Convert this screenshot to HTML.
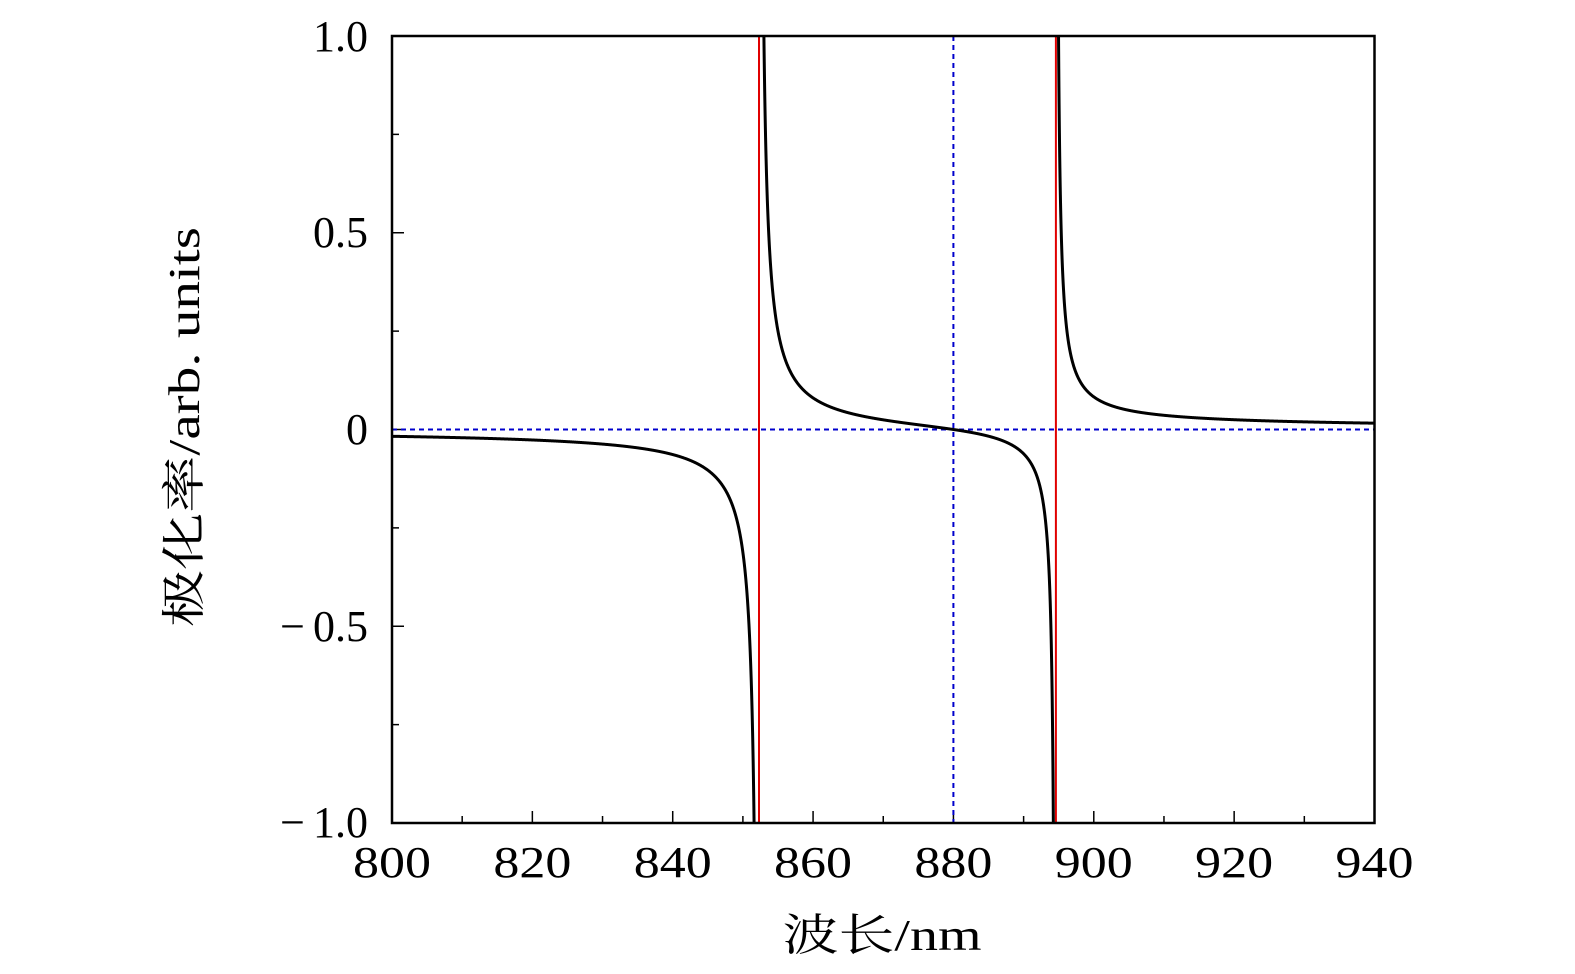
<!DOCTYPE html>
<html><head><meta charset="utf-8"><style>
html,body{margin:0;padding:0;background:#fff;overflow:hidden;}
svg{position:absolute;left:0;top:0;display:block;}
svg text{font-family:"Liberation Serif","Noto Serif CJK SC",serif;fill:#000;}
</style></head><body>
<svg width="1575" height="970" viewBox="0 0 1575 970" xmlns="http://www.w3.org/2000/svg" overflow="hidden">
<defs><clipPath id="c"><rect x="392" y="36" width="982.5" height="787"/></clipPath></defs>
<g id="ticks" stroke="#000" stroke-width="1.5"></g>
<g clip-path="url(#c)">
<line x1="392" y1="429.5" x2="1374.5" y2="429.5" stroke="#0000cc" stroke-width="2" stroke-dasharray="5,4"/>
<line x1="953.4" y1="36" x2="953.4" y2="823" stroke="#0000cc" stroke-width="2" stroke-dasharray="5,4"/>
<line x1="759" y1="36" x2="759" y2="823" stroke="#e00000" stroke-width="2"/>
<line x1="1055.9" y1="36" x2="1055.9" y2="823" stroke="#e00000" stroke-width="2"/>
<path id="p1" fill="none" stroke="#000" stroke-width="3"/>
<path id="p2" fill="none" stroke="#000" stroke-width="3"/>
<path id="p3" fill="none" stroke="#000" stroke-width="3"/>
</g>
<rect x="392" y="36" width="982.5" height="787" fill="none" stroke="#000" stroke-width="2.5"/>
<g font-size="44" text-anchor="middle" id="xl"></g>
<g font-size="44" text-anchor="end">
<text x="368" y="51">1.0</text><text x="368" y="247">0.5</text><text x="368" y="444">0</text>
<text x="368" y="641">−<tspan dx="8">0.5</tspan></text><text x="368" y="837">−<tspan dx="8">1.0</tspan></text>
</g>
<text x="882" y="950" font-size="44" text-anchor="middle" textLength="199" lengthAdjust="spacingAndGlyphs">波长/nm</text>
<text transform="translate(199,427) rotate(-90)" font-size="44" text-anchor="middle" textLength="400" lengthAdjust="spacingAndGlyphs">极化率/arb. units</text>
</svg>
<script>
var X=function(l){return 392+(l-800)*7.0179},Y=function(v){return 429.5-v*393.5};
var l1=852.3,l2=894.6,c1=0.7;
var c2=c1*(l2-880)/(880-l1);
function f(l){return c1/(l-l1)+c2/(l-l2);}
function seg(a,b){var d="";for(var i=0;i<=2000;i++){var l=a+(b-a)*i/2000;var y=Y(f(l));y=Math.max(-100,Math.min(1000,y));d+=(i?"L":"M")+X(l).toFixed(2)+" "+y.toFixed(2);}return d;}
document.getElementById("p1").setAttribute("d",seg(800,l1-0.001));
document.getElementById("p2").setAttribute("d",seg(l1+0.001,l2-0.001));
document.getElementById("p3").setAttribute("d",seg(l2+0.001,940));
var g=document.getElementById("ticks"),s="";
for(var l=800;l<=940;l+=10){var x=X(l),h=(l%20==0)?12:7;s+='<line x1="'+x+'" y1="823" x2="'+x+'" y2="'+(823-h)+'"/>';}
for(var v=-1;v<=1.001;v+=0.25){var y=Y(v),h=(Math.abs(v*2-Math.round(v*2))<1e-6)?12:7;s+='<line x1="392" y1="'+y+'" x2="'+(392+h)+'" y2="'+y+'"/>';}
g.innerHTML=s;
var t="";for(var l=800;l<=940;l+=20){t+='<text x="'+X(l)+'" y="877" textLength="78" lengthAdjust="spacingAndGlyphs">'+l+'</text>';}
document.getElementById("xl").innerHTML=t;
</script>
</body></html>
